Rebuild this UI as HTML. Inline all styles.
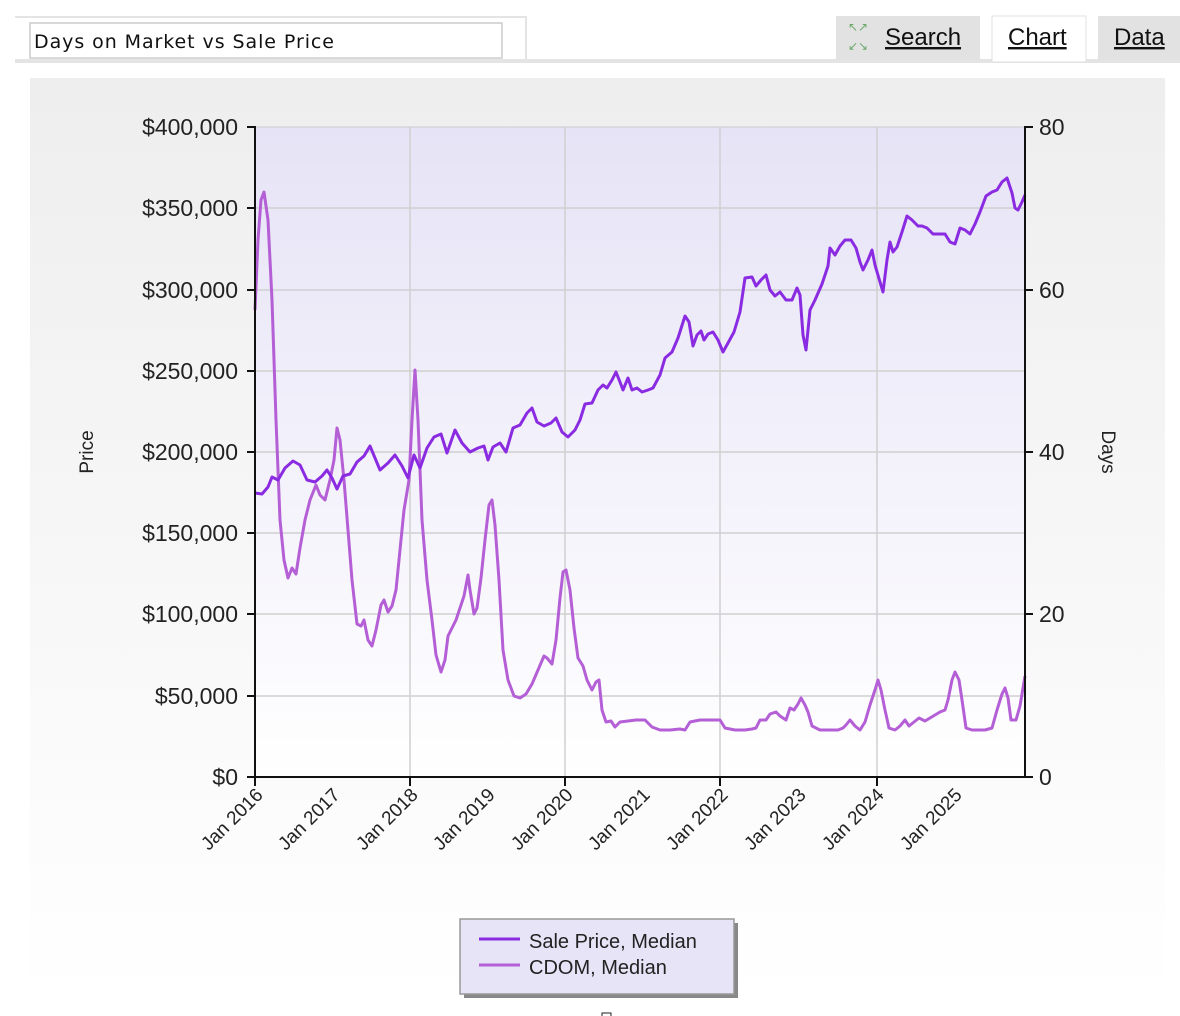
<!DOCTYPE html>
<html><head><meta charset="utf-8"><style>
body{margin:0;background:#fff;width:1180px;height:1016px;overflow:hidden;font-family:"Liberation Sans",sans-serif;}
</style></head><body>
<svg width="1180" height="1016" xmlns="http://www.w3.org/2000/svg" style="position:absolute;left:0;top:0">
<defs>
<linearGradient id="bg" x1="0" y1="0" x2="0" y2="1"><stop offset="0" stop-color="#eeeeee"/><stop offset="1" stop-color="#ffffff"/></linearGradient>
<linearGradient id="pa" x1="0" y1="0" x2="0" y2="1"><stop offset="0" stop-color="#e6e3f6"/><stop offset="1" stop-color="#ffffff"/></linearGradient>
</defs>
<rect x="15" y="16" width="512" height="2" fill="#e4e4e4"/>
<rect x="15" y="59" width="1165" height="4" fill="#e4e4e4"/>
<rect x="525" y="18" width="2" height="42" fill="#e4e4e4"/>
<rect x="30" y="23" width="472" height="35" fill="#fff" stroke="#ccc" stroke-width="1.5"/>
<text x="34" y="48" font-family="DejaVu Sans" font-size="19" fill="#111" textLength="300">Days on Market vs Sale Price</text>
<rect x="836" y="16" width="144" height="44" fill="#e2e2e2"/>
<text x="848" y="31" font-size="12" fill="#6aa86a">↖↗</text>
<text x="848" y="50" font-size="12" fill="#6aa86a">↙↘</text>
<text x="885" y="45" font-size="24" fill="#111" text-decoration="underline">Search</text>
<rect x="992" y="16" width="94" height="46" fill="#fff" stroke="#e0e0e0"/>
<text x="1008" y="45" font-size="24" fill="#111" text-decoration="underline">Chart</text>
<rect x="1098" y="16" width="82" height="44" fill="#e2e2e2"/>
<text x="1114" y="45" font-size="24" fill="#111" text-decoration="underline">Data</text>
<rect x="30" y="78" width="1135" height="922" fill="url(#bg)"/>
<rect x="255" y="127" width="770" height="650" fill="url(#pa)"/>
<g stroke="#d0d0d0" stroke-width="1.5">
<line x1="410" y1="127" x2="410" y2="777"/><line x1="565" y1="127" x2="565" y2="777"/><line x1="720" y1="127" x2="720" y2="777"/><line x1="877" y1="127" x2="877" y2="777"/>
<line x1="255" y1="208" x2="1025" y2="208"/><line x1="255" y1="290" x2="1025" y2="290"/><line x1="255" y1="371" x2="1025" y2="371"/><line x1="255" y1="452" x2="1025" y2="452"/><line x1="255" y1="533" x2="1025" y2="533"/><line x1="255" y1="614" x2="1025" y2="614"/><line x1="255" y1="696" x2="1025" y2="696"/>
</g>
<line x1="255" y1="127" x2="1025" y2="127" stroke="#ccc"/>
<polyline fill="none" stroke="#b45fd6" stroke-width="3" stroke-linejoin="round" points="255,310 258,240 261,200 264,192 268,220 272,300 276,420 280,520 284,560 288,578 292,568 296,574 300,548 305,520 310,500 316,485 320,495 325,500 330,480 334,460 337,428 340,440 344,480 348,530 352,580 357,624 361,626 364,620 368,640 372,646 376,630 381,605 384,600 388,612 392,606 396,590 400,550 404,510 409,480 412,420 415,370 418,420 422,520 427,580 432,620 436,655 441,672 445,660 448,636 452,628 456,620 460,608 464,596 468,575 470,590 474,614 477,608 481,578 485,540 489,505 492,500 495,525 499,580 503,650 508,680 514,696 520,698 526,694 532,684 538,670 544,656 547,658 552,664 556,640 560,598 563,572 566,570 570,590 574,628 578,658 583,666 587,680 592,690 596,682 599,680 602,710 606,722 611,721 615,727 620,722 628,721 636,720 645,720 652,727 660,730 670,730 680,729 685,730 690,722 700,720 710,720 720,720 725,728 735,730 745,730 752,729 756,728 760,720 766,720 770,714 776,712 780,716 786,720 790,708 794,710 798,704 801,698 805,705 808,712 812,726 820,730 830,730 838,730 843,728 846,725 850,720 855,726 860,730 865,722 870,705 875,690 878,680 881,690 885,710 889,728 895,730 900,726 905,720 909,726 914,722 919,718 925,721 930,718 935,715 940,712 945,710 948,700 952,680 955,672 959,680 962,700 966,728 972,730 980,730 985,730 992,728 997,710 1002,694 1005,688 1008,698 1011,720 1016,720 1020,706 1025,676"/>
<polyline fill="none" stroke="#8a2be2" stroke-width="3" stroke-linejoin="round" points="255,493 262,494 268,487 272,477 278,480 285,468 293,461 300,465 307,480 315,482 322,476 327,470 332,478 337,489 343,476 350,474 357,462 364,456 370,446 375,458 380,470 388,463 395,455 402,466 408,478 414,455 420,468 427,448 434,437 441,434 447,453 455,430 462,443 470,452 478,448 484,446 488,460 493,447 500,443 506,452 513,428 520,425 527,413 532,408 537,422 544,426 551,423 556,418 562,432 568,437 575,430 580,420 585,404 592,403 598,390 603,385 607,388 612,380 616,372 620,382 623,390 628,378 632,390 637,388 642,392 648,390 653,388 660,375 665,358 672,352 678,338 685,316 689,322 693,346 697,335 701,331 704,340 708,334 713,332 718,340 723,352 728,343 734,332 740,312 745,278 752,277 756,286 761,280 766,275 770,290 775,296 780,292 786,300 792,300 797,288 800,295 803,335 806,350 810,310 815,300 822,284 828,266 830,248 835,255 840,246 845,240 851,240 856,248 860,262 863,270 868,260 872,250 875,265 880,282 883,292 887,260 890,242 893,252 897,247 902,232 907,216 912,220 918,226 922,226 927,228 933,234 940,234 945,234 950,242 955,244 960,228 965,230 970,234 975,224 980,212 986,196 992,192 997,190 1002,182 1007,178 1012,193 1015,208 1018,210 1022,202 1025,195"/>
<g stroke="#111" stroke-width="2">
<line x1="255" y1="126" x2="255" y2="778"/><line x1="1025" y1="126" x2="1025" y2="778"/><line x1="254" y1="777" x2="1026" y2="777"/>
<line x1="247" y1="127" x2="255" y2="127"/><line x1="247" y1="208" x2="255" y2="208"/><line x1="247" y1="290" x2="255" y2="290"/><line x1="247" y1="371" x2="255" y2="371"/><line x1="247" y1="452" x2="255" y2="452"/><line x1="247" y1="533" x2="255" y2="533"/><line x1="247" y1="614" x2="255" y2="614"/><line x1="247" y1="696" x2="255" y2="696"/><line x1="247" y1="777" x2="255" y2="777"/>
<line x1="1025" y1="127" x2="1033" y2="127"/><line x1="1025" y1="290" x2="1033" y2="290"/><line x1="1025" y1="452" x2="1033" y2="452"/><line x1="1025" y1="614" x2="1033" y2="614"/><line x1="1025" y1="777" x2="1033" y2="777"/>
<line x1="255" y1="777" x2="255" y2="786"/><line x1="410" y1="777" x2="410" y2="786"/><line x1="565" y1="777" x2="565" y2="786"/><line x1="720" y1="777" x2="720" y2="786"/><line x1="877" y1="777" x2="877" y2="786"/>
</g>
<g font-size="23" fill="#222" text-anchor="end">
<text x="238" y="135">$400,000</text><text x="238" y="216">$350,000</text><text x="238" y="298">$300,000</text><text x="238" y="379">$250,000</text><text x="238" y="460">$200,000</text><text x="238" y="541">$150,000</text><text x="238" y="622">$100,000</text><text x="238" y="704">$50,000</text><text x="238" y="785">$0</text>
</g>
<g font-size="23" fill="#222">
<text x="1039" y="135">80</text><text x="1039" y="298">60</text><text x="1039" y="460">40</text><text x="1039" y="622">20</text><text x="1039" y="785">0</text>
</g>
<text transform="translate(93,452) rotate(-90)" font-size="19" fill="#222" text-anchor="middle">Price</text>
<text transform="translate(1102,452) rotate(90)" font-size="19" fill="#222" text-anchor="middle">Days</text>
<g font-size="19" fill="#222" text-anchor="end">
<text transform="translate(264,796) rotate(-45)">Jan 2016</text>
<text transform="translate(341,796) rotate(-45)">Jan 2017</text>
<text transform="translate(419,796) rotate(-45)">Jan 2018</text>
<text transform="translate(496,796) rotate(-45)">Jan 2019</text>
<text transform="translate(574,796) rotate(-45)">Jan 2020</text>
<text transform="translate(651,796) rotate(-45)">Jan 2021</text>
<text transform="translate(729,796) rotate(-45)">Jan 2022</text>
<text transform="translate(807,796) rotate(-45)">Jan 2023</text>
<text transform="translate(885,796) rotate(-45)">Jan 2024</text>
<text transform="translate(963,796) rotate(-45)">Jan 2025</text>
</g>
<rect x="464" y="923" width="274" height="75" fill="#888"/>
<rect x="460" y="919" width="274" height="75" fill="#e6e4f6" stroke="#999" stroke-width="1.5"/>
<line x1="479" y1="939" x2="520" y2="939" stroke="#8a2be2" stroke-width="3"/>
<line x1="479" y1="965" x2="520" y2="965" stroke="#b45fd6" stroke-width="3"/>
<text x="529" y="948" font-size="20" fill="#222">Sale Price, Median</text>
<text x="529" y="974" font-size="20" fill="#222">CDOM, Median</text>
<rect x="602" y="1013" width="9" height="6" fill="none" stroke="#222"/>
</svg>
</body></html>
